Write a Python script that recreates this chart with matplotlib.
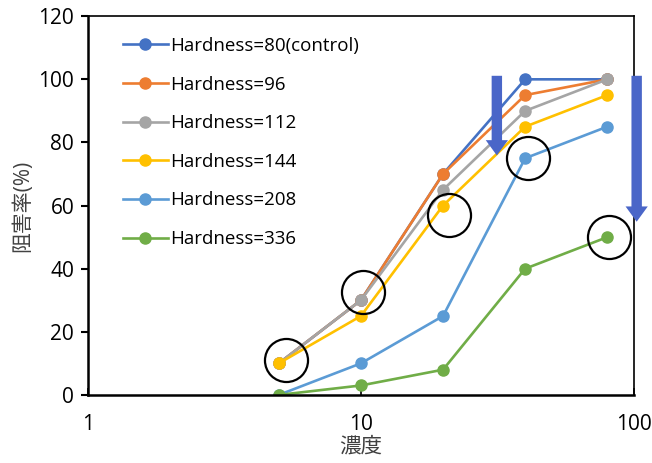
import matplotlib.pyplot as plt
from matplotlib.ticker import FixedLocator, NullLocator

plt.rcParams['font.family'] = ['Open Sans', 'Noto Sans CJK JP', 'DejaVu Sans']

# concentration (log axis)
conc = [5, 10, 20, 40, 80]

labels = ['Hardness=80(control)', 'Hardness=96', 'Hardness=112',
          'Hardness=144', 'Hardness=208', 'Hardness=336']
h80 = [10, 30, 70, 100, 100]
h96 = [10, 30, 70, 95, 100]
h112 = [10, 30, 65, 90, 100]
h144 = [10, 25, 60, 85, 95]
h208 = [0, 10, 25, 75, 85]
h336 = [0, 3, 8, 40, 50]
series = [h80, h96, h112, h144, h208, h336]
colors = ['#4472C4', '#ED7D31', '#A5A5A5', '#FFC000', '#5B9BD5', '#70AD47']

# highlight circles and drop arrows (annotations)
circle_x = [5.3, 10.2, 21, 41, 81]
circle_y = [11, 32.5, 57, 75, 50]
arrow_x = [31.5, 102.5]
arrow_top = [102, 102]
arrow_tip = [75, 54]

fig = plt.figure(figsize=(6.52, 4.63), dpi=100)
ax = fig.add_axes([0.135, 0.147, 0.837, 0.818])

for vals, lab, col in zip(series, labels, colors):
    ax.plot(conc, vals, color=col, lw=1.9, marker='o', ms=8, label=lab)

ax.plot(circle_x, circle_y, ls='none', marker='o', ms=31, mfc='none',
        mec='black', mew=1.6, zorder=5, clip_on=False)

for xa, yt, yb in zip(arrow_x, arrow_top, arrow_tip):
    ax.annotate('', xy=(xa, yb), xytext=(xa, yt), annotation_clip=False,
                arrowprops=dict(arrowstyle='simple,head_width=1.6,head_length=1.1,tail_width=0.75',
                                color='#4A66C8', lw=0, mutation_scale=10),
                zorder=6)

ax.set_xscale('log')
ax.set_xlim(1, 100)
ax.set_ylim(0, 120)
ax.xaxis.set_major_locator(FixedLocator([1, 10, 100]))
ax.xaxis.set_minor_locator(NullLocator())
ax.set_xticklabels(['1', '10', '100'])
ax.set_yticks(range(0, 121, 20))

ax.tick_params(axis='y', labelsize=15, length=5, width=1.5, pad=5, colors='black')
ax.tick_params(axis='x', labelsize=15, length=5, width=1.2, pad=14, direction='in')

for s in ['left', 'bottom']:
    ax.spines[s].set_linewidth(1.8)
for s in ['top', 'right']:
    ax.spines[s].set_linewidth(1.2)

ax.set_xlabel('濃度', fontsize=15.5, labelpad=1, color='#404040')
ax.set_ylabel('阻害率(%)', fontsize=15, labelpad=4, color='#404040')

ax.legend(loc='upper left', bbox_to_anchor=(0.05, 0.965), frameon=False,
          fontsize=13.5, handlelength=2.4, handletextpad=0.1, labelspacing=1.1,
          borderaxespad=0)

fig.savefig('out.png', dpi=100)
